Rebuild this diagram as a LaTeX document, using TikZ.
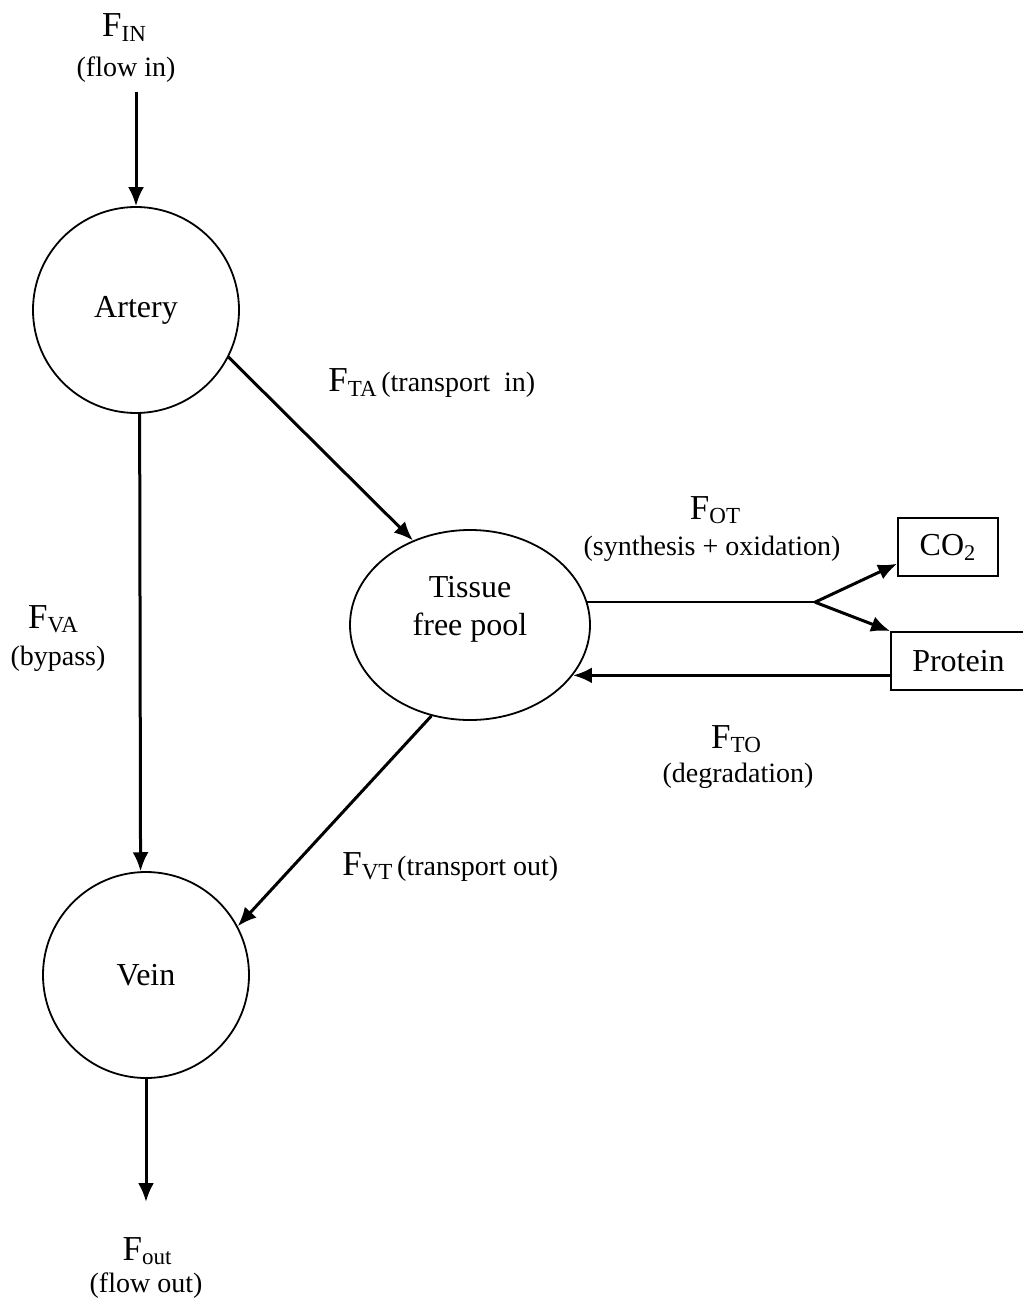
\documentclass[tikz,border=0pt]{standalone}
\usepackage{fontspec}
\setmainfont{Liberation Serif}
\usetikzlibrary{shapes.geometric,arrows.meta,calc}
\newcommand{\flux}[1]{{\fontsize{17.5}{20}\selectfont F}\raisebox{-2.2pt}{\fontsize{11.5}{13}\selectfont #1}}
\tikzstyle{cn}=[shape=circle,draw,line width=0.9pt,minimum size=103pt,inner sep=0pt,font=\fontsize{16}{19}\selectfont]
\tikzstyle{pool}=[shape=ellipse,draw,line width=0.9pt,minimum width=120pt,minimum height=95pt,inner sep=0pt]
\tikzstyle{sink}=[shape=rectangle,draw,line width=0.9pt,minimum height=29pt,inner sep=0pt,font=\fontsize{16}{19}\selectfont]
\tikzstyle{flow}=[-{Latex[length=9.5pt,width=8pt]},line width=1.5pt]
\tikzstyle{note}=[inner sep=0pt,font=\fontsize{14}{16}\selectfont]
\begin{document}
\begin{tikzpicture}[x=0.5pt,y=-0.5pt]
            \useasboundingbox (0,0) rectangle (1022,1304);
            % compartments
            \node[cn] (artery) at (136,310) {Artery};
            \node[cn] (vein) at (146,975) {Vein};
            \node[pool] (tissue) at (470,625) {};
            \node[align=center,inner sep=0pt,font=\fontsize{16}{19}\selectfont] (tissuetxt) at (470,609) {Tissue\\free pool};
            \node[sink,minimum width=50pt] (co2) at (948,547) {CO\textsubscript{2}};
            \node[sink,minimum width=67.5pt] (protein) at (958.5,661) {Protein};
            % labels
            \node[note,anchor=base] (fin) at (124,37) {\flux{IN}};
            \node[note,anchor=base] (finnote) at (126,77) {(flow in)};
            \node[note,anchor=base] (fva) at (53,628) {\flux{VA}};
            \node[note,anchor=base] (fvanote) at (58,665) {(bypass)};
            \node[note,anchor=base west] (fta) at (328,392) {\flux{TA}\,(transport~ in)};
            \node[note,anchor=base] (fot) at (715,519) {\flux{OT}};
            \node[note,anchor=base] (fotnote) at (712,555) {(synthesis + oxidation)};
            \node[note,anchor=base] (fto) at (736,748) {\flux{TO}};
            \node[note,anchor=base] (ftonote) at (738,782) {(degradation)};
            \node[note,anchor=base west] (fvt) at (342,875) {\flux{VT}\,(transport out)};
            \node[note,anchor=base] (fout) at (147,1260) {\flux{out}};
            \node[note,anchor=base] (foutnote) at (146,1292) {(flow out)};
            % flows
            \coordinate (inflow) at (136,92);
            \coordinate (outflow) at (146,1202);
            \coordinate (fork) at (815,603);
            \coordinate (degr) at ($(protein.south west)!0.26!(protein.north west)$);
            \draw[flow] (inflow) -- (artery.north);
            \draw[flow] (artery.-88) -- (vein.93);
            \draw[flow] (artery.-27) -- (tissue.124);
            \draw[flow] (tissue.-113) -- (vein.28);
            \draw[line width=1pt] (tissue.11) -- (tissue.11 -| fork);
            \draw[flow] (tissue.11 -| fork) -- ($(co2.south west)!0.22!(co2.north west)$);
            \draw[flow] (tissue.11 -| fork) -- (protein.north west);
            \draw[flow] (degr) -- (degr -| tissue.-26);
            \draw[flow] (vein.south) -- (outflow);
        \end{tikzpicture}
\end{document}
